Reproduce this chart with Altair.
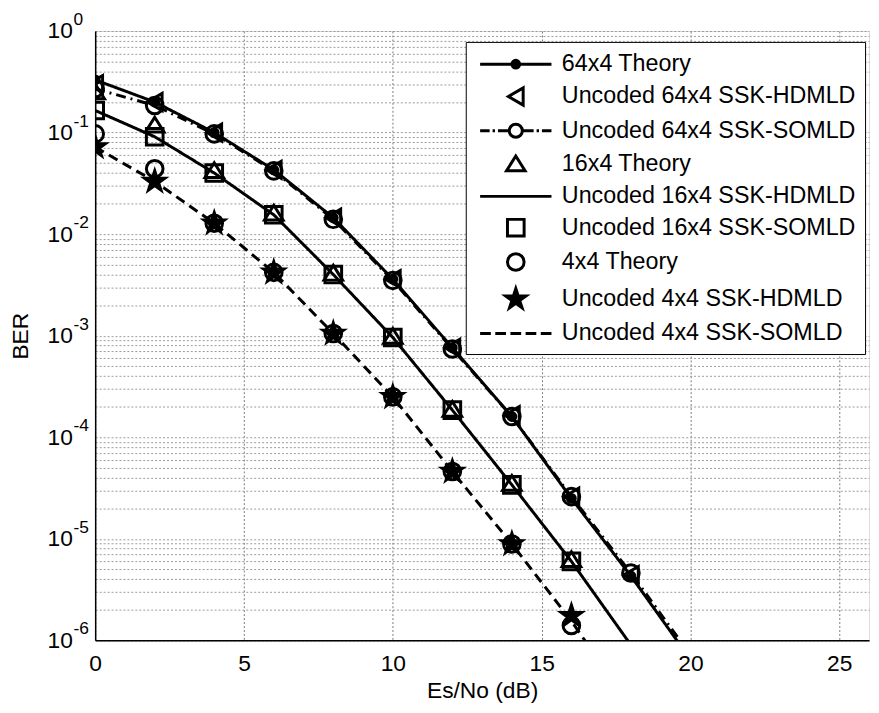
import altair as alt
import pandas as pd

FONT = "Liberation Sans"

# ---------------- data ----------------
snr = [0, 2, 4, 6, 8, 10, 12, 14, 16, 18, 20]

names = [
    "64x4 Theory",
    "Uncoded 64x4 SSK-HDMLD",
    "Uncoded 64x4 SSK-SOMLD",
    "16x4 Theory",
    "Uncoded 16x4 SSK-HDMLD",
    "Uncoded 16x4 SSK-SOMLD",
    "4x4 Theory",
    "Uncoded 4x4 SSK-HDMLD",
    "Uncoded 4x4 SSK-SOMLD",
]

theory_64 = [0.33, 0.20, 0.10, 0.043, 0.0145, 0.0036, 7.6e-4, 1.6e-4, 2.5e-5, 4.3e-6, 6.5e-7]
hdmld_64 = [0.30, 0.20, 0.10, 0.043, 0.0145, 0.0036, 7.6e-4, 1.65e-4, 2.6e-5, 4.4e-6]
somld_64 = [0.27, 0.185, 0.097, 0.042, 0.0140, 0.0035, 7.4e-4, 1.6e-4, 2.6e-5, 4.6e-6, 7.2e-7]
theory_16 = [0.25, 0.118, 0.042, 0.016, 0.0041, 9.8e-4, 1.87e-4, 3.5e-5, 6.2e-6]
hdmld_16 = [0.165, 0.091, 0.040, 0.0155, 0.0040, 9.6e-4, 1.85e-4, 3.4e-5, 6.0e-6, 9.0e-7]
somld_16 = [0.165, 0.091, 0.040, 0.0155, 0.0040, 9.6e-4, 1.85e-4, 3.4e-5, 6.0e-6]
theory_4 = [0.097, 0.044, 0.0128, 0.0042, 1.05e-3, 2.5e-4, 4.6e-5, 8.9e-6, 1.4e-6]
hdmld_4 = [0.072, 0.033, 0.0128, 0.0042, 1.05e-3, 2.5e-4, 4.6e-5, 8.9e-6, 1.75e-6]
somld_4 = [0.072, 0.033, 0.0128, 0.0042, 1.05e-3, 2.5e-4, 4.6e-5, 8.9e-6, 1.55e-6, 2.2e-7]

series_values = [theory_64, hdmld_64, somld_64, theory_16, hdmld_16,
                 somld_16, theory_4, hdmld_4, somld_4]

x_ticks = [0, 5, 10, 15, 20, 25]
decades = [0, -1, -2, -3, -4, -5, -6]

# ---------------- tables ----------------
rows = []
for name, vals in zip(names, series_values):
    for x, v in zip(snr, vals):
        rows.append({"series": name, "snr": x, "ber": v})
df = pd.DataFrame(rows)

y_values = [1.0]
for e in range(-6, 0):
    for k in range(1, 10):
        y_values.append(k * 10.0 ** e)

exp_df = pd.DataFrame({"ber": [10.0 ** e for e in decades],
                       "label": [str(e) for e in decades]})

legend_df = pd.DataFrame({"series": names, "snr": [0] * len(names),
                          "ber": [float("nan")] * len(names)})

# ---------------- shapes ----------------
def circ(r):
    return f"M{-r},0A{r},{r} 0 1,0 {r},0A{r},{r} 0 1,0 {-r},0Z"

TRI_LEFT = "M-0.62,0L0.62,-0.72L0.62,0.72Z"
TRI_UP = "M0,-0.68L0.78,0.56L-0.78,0.56Z"
SQUARE = "M-0.7,-0.7H0.7V0.7H-0.7Z"
STAR = ("M0,-0.9L0.2,-0.278L0.856,-0.278L0.327,0.106L0.529,0.728L0,0.344"
        "L-0.529,0.728L-0.327,0.106L-0.856,-0.278L-0.2,-0.278Z")
DOT = circ(0.33)
LINE = "M-3,0H3"
DASHDOT = "M-3,0H-2.2M-1.95,0H-1.75M-1.5,0H-0.55M0.55,0H1.5M1.75,0H1.95M2.2,0H3"
DASHED = "M-3,0H-2.1M-1.725,0H-0.825M-0.45,0H0.45M0.825,0H1.725M2.1,0H3"

legend_shapes = [
    LINE + DOT,
    TRI_LEFT,
    DASHDOT + circ(0.55),
    TRI_UP,
    LINE,
    SQUARE,
    circ(0.7),
    STAR,
    DASHED,
]
legend_fill = ["black", "transparent", "transparent", "transparent", "transparent",
               "transparent", "transparent", "black", "transparent"]
legend_stroke = ["black"] * len(names)

# ---------------- encodings ----------------
x_enc = alt.X(
    "snr:Q",
    scale=alt.Scale(domain=[0, 26], nice=False, zero=False),
    axis=alt.Axis(
        values=x_ticks, title="Es/No (dB)", grid=True, ticks=False,
        labelFontSize=23, labelFont=FONT, labelColor="black", labelPadding=12,
        labelFlush=False,
        titleFontSize=23, titleFont=FONT, titleColor="black",
        titleFontWeight="normal", titlePadding=5,
        gridDash=[2, 2], gridColor="#7a7a7a", gridWidth=1, gridOpacity=1,
        domainColor="black", domainWidth=1.5,
    ),
)
y_enc = alt.Y(
    "ber:Q",
    scale=alt.Scale(type="log", domain=[1e-6, 1], nice=False),
    axis=alt.Axis(
        values=y_values, title="BER", grid=True, ticks=False,
        labelExpr="abs(log(datum.value)/LN10 - round(log(datum.value)/LN10)) < 1e-6 ? '10' : ''",
        labelOverlap=False, labelFontSize=23, labelFont=FONT, labelColor="black",
        labelPadding=23,
        titleFontSize=23, titleFont=FONT, titleColor="black",
        titleFontWeight="normal", titlePadding=15,
        gridDash=[2, 2], gridColor="#9a9a9a", gridWidth=1, gridOpacity=1,
        domainColor="black", domainWidth=1.5,
    ),
)

layers = []

# lines
line_names = [names[0], names[2], names[4], names[8]]
lines = (
    alt.Chart(df)
    .transform_filter(alt.FieldOneOfPredicate(field="series", oneOf=line_names))
    .mark_line(color="black", strokeWidth=3, clip=True)
    .encode(
        x=x_enc, y=y_enc,
        strokeDash=alt.StrokeDash(
            "series:N",
            scale=alt.Scale(domain=line_names,
                            range=[[1, 0], [10, 5, 2, 5], [1, 0], [10, 6]]),
            legend=None,
        ),
        detail="series:N",
    )
)
layers.append(lines)

# markers
marker_specs = [
    (names[0], DOT, True),
    (names[1], TRI_LEFT, False),
    (names[2], circ(0.7), False),
    (names[3], TRI_UP, False),
    (names[5], SQUARE, False),
    (names[6], circ(0.7), False),
    (names[7], STAR, True),
]
for name, path, filled in marker_specs:
    kw = dict(shape=path, size=576, strokeWidth=3, opacity=1, clip=True,
              stroke="black", filled=filled)
    if filled:
        kw["fill"] = "black"
    layers.append(
        alt.Chart(df)
        .transform_filter(alt.datum.series == name)
        .mark_point(**kw)
        .encode(x=x_enc, y=y_enc)
    )

# exponents of the y tick labels
layers.append(
    alt.Chart(exp_df)
    .mark_text(align="left", baseline="middle", dy=-11, fontSize=17.5,
               font=FONT, color="black")
    .encode(x=alt.value(-22), y=y_enc, text="label:N")
)

# legend carrier
leg = alt.Legend(
    title=None, orient="none", legendX=374, legendY=11, padding=9,
    symbolOffset=28, labelOffset=33, rowPadding=5.6,
    labelFontSize=23.5, labelFont=FONT, labelColor="black", labelLimit=500,
    strokeColor="black", fillColor="white", symbolSize=576,
    symbolStrokeWidth=3, symbolStrokeColor="black", symbolOpacity=1,
)
layers.append(
    alt.Chart(legend_df)
    .mark_point(size=576, stroke="black", strokeWidth=3, opacity=1,
                filled=False, clip=True)
    .encode(
        x=x_enc, y=y_enc,
        shape=alt.Shape("series:N",
                        scale=alt.Scale(domain=names, range=legend_shapes),
                        legend=leg),
        fill=alt.Fill("series:N",
                      scale=alt.Scale(domain=names, range=legend_fill),
                      legend=leg),
        stroke=alt.Stroke("series:N",
                          scale=alt.Scale(domain=names, range=legend_stroke),
                          legend=leg),
    )
)

chart = (
    alt.layer(*layers)
    .properties(width=781, height=615, autosize="none",
                padding={"left": 88, "top": 20, "right": 2, "bottom": 62})
    .configure_view(stroke="black", strokeWidth=1.5)
    .configure(background="white")
)

chart.save("out.html", embed_options={"renderer": "svg", "actions": False})
